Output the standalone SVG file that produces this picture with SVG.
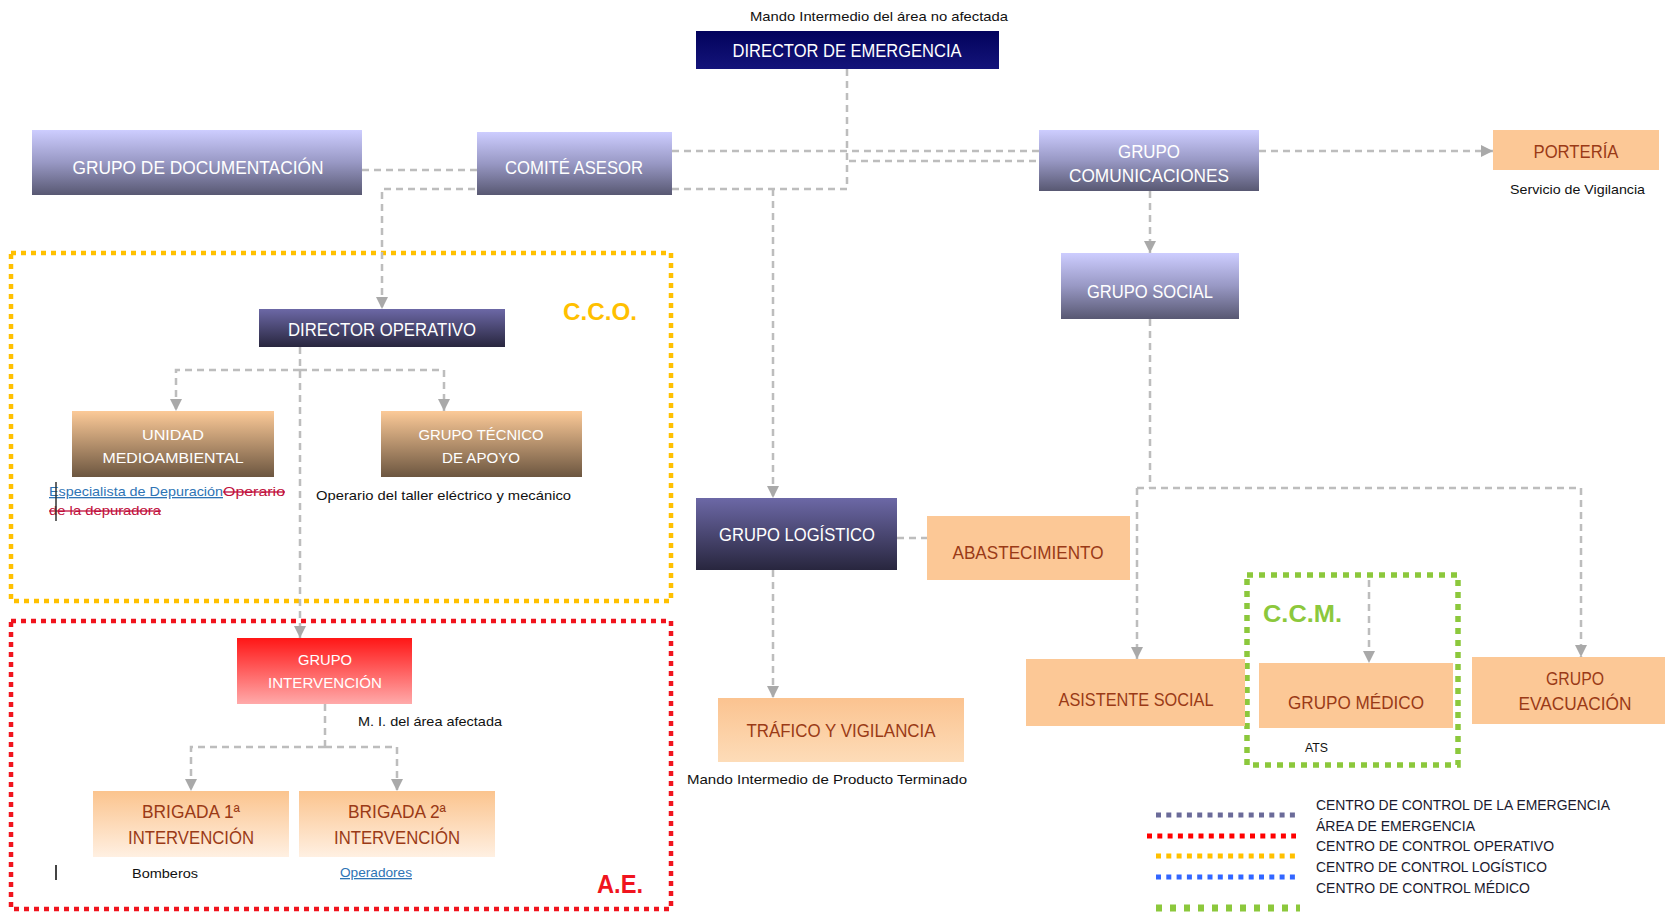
<svg xmlns="http://www.w3.org/2000/svg" width="1665" height="912" viewBox="0 0 1665 912">
<defs>
<linearGradient id="gLav" x1="0" y1="0" x2="0" y2="1"><stop offset="0" stop-color="#cdcdff"/><stop offset="0.5" stop-color="#9898c4"/><stop offset="1" stop-color="#585872"/></linearGradient>
<linearGradient id="gDark" x1="0" y1="0" x2="0" y2="1"><stop offset="0" stop-color="#6c68a6"/><stop offset="1" stop-color="#28263e"/></linearGradient>
<linearGradient id="gNavy" x1="0" y1="0" x2="0" y2="1"><stop offset="0" stop-color="#02025c"/><stop offset="1" stop-color="#14147a"/></linearGradient>
<linearGradient id="gBrown" x1="0" y1="0" x2="0" y2="1"><stop offset="0" stop-color="#fcca98"/><stop offset="1" stop-color="#6c5640"/></linearGradient>
<linearGradient id="gLight" x1="0" y1="0" x2="0" y2="1"><stop offset="0" stop-color="#fbc48e"/><stop offset="1" stop-color="#fff0e2"/></linearGradient>
<linearGradient id="gTraf" x1="0" y1="0" x2="0" y2="1"><stop offset="0" stop-color="#fbc390"/><stop offset="1" stop-color="#fddcb8"/></linearGradient>
<linearGradient id="gRed" x1="0" y1="0" x2="0" y2="1"><stop offset="0" stop-color="#ff1616"/><stop offset="1" stop-color="#ffaaaa"/></linearGradient>
<marker id="arr" markerUnits="userSpaceOnUse" markerWidth="14" markerHeight="14" refX="12" refY="6" orient="auto"><path d="M0,0 L12,6 L0,12 z" fill="#a9a9a9"/></marker>
<style>
.con{fill:none;stroke:#bdbdbd;stroke-width:2.5;stroke-dasharray:7 5}
.ar{marker-end:url(#arr)}
.bl{font-family:"Liberation Sans",Arial,sans-serif;font-size:18px;fill:#ffffff;text-anchor:middle}
.bp{font-family:"Liberation Sans",Arial,sans-serif;font-size:18px;fill:#9a3a16;text-anchor:middle}
.sm{font-family:"Liberation Sans",Arial,sans-serif;font-size:13px;fill:#111111}
.lg{font-family:"Liberation Sans",Arial,sans-serif;font-size:14px;fill:#1a1a2e}
.zl{font-family:"Liberation Sans",Arial,sans-serif;font-weight:bold}
.peach{fill:#fcc896}
.zone{fill:none;stroke-width:4.5;stroke-dasharray:5 5}
</style>
</defs>
<rect width="1665" height="912" fill="#ffffff"/>

<g id="zones">
<rect class="zone" x="11" y="253" width="660" height="348" stroke="#ffc000"/>
<rect class="zone" x="11" y="621" width="660" height="288" stroke="#f0141e"/>
<rect x="1247" y="575" width="211" height="190" fill="none" stroke="#8cc83c" stroke-width="5.5" stroke-dasharray="6 6"/>
<text class="zl" x="563" y="320" textLength="74" lengthAdjust="spacingAndGlyphs" style="font-size:24px;fill:#ffc000">C.C.O.</text>
<text class="zl" x="1263" y="622" textLength="79" lengthAdjust="spacingAndGlyphs" style="font-size:24px;fill:#8cc83c">C.C.M.</text>
<text class="zl" x="597" y="893" textLength="46" lengthAdjust="spacingAndGlyphs" style="font-size:26px;fill:#f0141e">A.E.</text>
</g>

<g id="connectors">
<path class="con ar" d="M847,69 V189 H382 V309"/>
<path class="con" d="M672,151 H1039"/>
<path class="con" d="M849,161 H1039"/>
<path class="con" d="M362,170 H477"/>
<path class="con ar" d="M1259,151 H1493"/>
<path class="con ar" d="M1150,191 V253"/>
<path class="con" d="M1150,319 V488"/>
<path class="con ar" d="M1137,488 H1581 V657"/>
<path class="con ar" d="M1137,488 V659"/>
<path class="con ar" d="M773,189 V498"/>
<path class="con" d="M897,538 H927"/>
<path class="con ar" d="M773,570 V698"/>
<path class="con ar" d="M300,347 V638"/>
<path class="con ar" d="M300,370 H176 V411"/>
<path class="con ar" d="M300,370 H444 V411"/>
<path class="con ar" d="M1369,580 V663"/>
<path class="con" d="M325,704 V747"/>
<path class="con ar" d="M325,747 H191 V791"/>
<path class="con ar" d="M325,747 H397 V791"/>
</g>

<g id="director-emergencia">
<text class="sm" x="750" y="21" textLength="258" lengthAdjust="spacingAndGlyphs">Mando Intermedio del área no afectada</text>
<rect x="696" y="31" width="303" height="38" fill="url(#gNavy)"/>
<text class="bl" x="847" y="57" textLength="229" lengthAdjust="spacingAndGlyphs">DIRECTOR DE EMERGENCIA</text>
</g>

<g id="grupo-documentacion">
<rect x="32" y="130" width="330" height="65" fill="url(#gLav)"/>
<text class="bl" x="198" y="174" textLength="251" lengthAdjust="spacingAndGlyphs">GRUPO DE DOCUMENTACIÓN</text>
</g>

<g id="comite-asesor">
<rect x="477" y="132" width="195" height="63" fill="url(#gLav)"/>
<text class="bl" x="574" y="174" textLength="138" lengthAdjust="spacingAndGlyphs">COMITÉ ASESOR</text>
</g>

<g id="grupo-comunicaciones">
<rect x="1039" y="130" width="220" height="61" fill="url(#gLav)"/>
<text class="bl" x="1149" y="158" textLength="62" lengthAdjust="spacingAndGlyphs">GRUPO</text>
<text class="bl" x="1149" y="182" textLength="160" lengthAdjust="spacingAndGlyphs">COMUNICACIONES</text>
</g>

<g id="porteria">
<rect class="peach" x="1493" y="130" width="166" height="40"/>
<text class="bp" x="1576" y="158" textLength="85" lengthAdjust="spacingAndGlyphs">PORTERÍA</text>
<text class="sm" x="1510" y="194" textLength="135" lengthAdjust="spacingAndGlyphs">Servicio de Vigilancia</text>
</g>

<g id="grupo-social">
<rect x="1061" y="253" width="178" height="66" fill="url(#gLav)"/>
<text class="bl" x="1150" y="298" textLength="126" lengthAdjust="spacingAndGlyphs">GRUPO SOCIAL</text>
</g>

<g id="director-operativo">
<rect x="259" y="309" width="246" height="38" fill="url(#gDark)"/>
<text class="bl" x="382" y="336" textLength="188" lengthAdjust="spacingAndGlyphs">DIRECTOR OPERATIVO</text>
</g>

<g id="unidad-medioambiental">
<rect x="72" y="411" width="202" height="66" fill="url(#gBrown)"/>
<text class="bl" x="173" y="440" style="font-size:15px" textLength="62" lengthAdjust="spacingAndGlyphs">UNIDAD</text>
<text class="bl" x="173" y="463" style="font-size:15px" textLength="141" lengthAdjust="spacingAndGlyphs">MEDIOAMBIENTAL</text>
<text class="sm" x="49" y="496" textLength="174" lengthAdjust="spacingAndGlyphs" style="fill:#2e74b5;text-decoration:underline">Especialista de Depuración</text>
<text class="sm" x="223" y="496" textLength="62" lengthAdjust="spacingAndGlyphs" style="fill:#c0103c;text-decoration:line-through">Operario</text>
<text class="sm" x="49" y="515" textLength="112" lengthAdjust="spacingAndGlyphs" style="fill:#c0103c;text-decoration:line-through">de la depuradora</text>
<line x1="56" y1="482" x2="56" y2="521" stroke="#333333" stroke-width="1.5"/>
</g>

<g id="grupo-tecnico">
<rect x="381" y="411" width="201" height="66" fill="url(#gBrown)"/>
<text class="bl" x="481" y="440" style="font-size:15px" textLength="125" lengthAdjust="spacingAndGlyphs">GRUPO TÉCNICO</text>
<text class="bl" x="481" y="463" style="font-size:15px" textLength="78" lengthAdjust="spacingAndGlyphs">DE APOYO</text>
<text class="sm" x="316" y="500" textLength="255" lengthAdjust="spacingAndGlyphs">Operario del taller eléctrico y mecánico</text>
</g>

<g id="grupo-intervencion">
<rect x="237" y="638" width="175" height="66" fill="url(#gRed)"/>
<text class="bl" x="325" y="665" style="font-size:15px" textLength="54" lengthAdjust="spacingAndGlyphs">GRUPO</text>
<text class="bl" x="325" y="688" style="font-size:15px" textLength="114" lengthAdjust="spacingAndGlyphs">INTERVENCIÓN</text>
<text class="sm" x="358" y="726" textLength="144" lengthAdjust="spacingAndGlyphs">M. I. del área afectada</text>
</g>

<g id="brigada-1">
<rect x="93" y="791" width="196" height="66" fill="url(#gLight)"/>
<text class="bp" x="191" y="818" textLength="98" lengthAdjust="spacingAndGlyphs">BRIGADA 1ª</text>
<text class="bp" x="191" y="844" textLength="126" lengthAdjust="spacingAndGlyphs">INTERVENCIÓN</text>
<text class="sm" x="132" y="878" textLength="66" lengthAdjust="spacingAndGlyphs">Bomberos</text>
<line x1="56" y1="865" x2="56" y2="880" stroke="#444444" stroke-width="2"/>
</g>

<g id="brigada-2">
<rect x="299" y="791" width="196" height="66" fill="url(#gLight)"/>
<text class="bp" x="397" y="818" textLength="98" lengthAdjust="spacingAndGlyphs">BRIGADA 2ª</text>
<text class="bp" x="397" y="844" textLength="126" lengthAdjust="spacingAndGlyphs">INTERVENCIÓN</text>
<text class="sm" x="340" y="877" textLength="72" lengthAdjust="spacingAndGlyphs" style="fill:#2e74b5;text-decoration:underline">Operadores</text>
</g>

<g id="grupo-logistico">
<rect x="696" y="498" width="201" height="72" fill="url(#gDark)"/>
<text class="bl" x="797" y="541" textLength="156" lengthAdjust="spacingAndGlyphs">GRUPO LOGÍSTICO</text>
</g>

<g id="abastecimiento">
<rect class="peach" x="927" y="516" width="203" height="64"/>
<text class="bp" x="1028" y="559" textLength="151" lengthAdjust="spacingAndGlyphs">ABASTECIMIENTO</text>
</g>

<g id="trafico-vigilancia">
<rect x="718" y="698" width="246" height="64" fill="url(#gTraf)"/>
<text class="bp" x="841" y="737" textLength="189" lengthAdjust="spacingAndGlyphs">TRÁFICO Y VIGILANCIA</text>
<text class="sm" x="687" y="784" textLength="280" lengthAdjust="spacingAndGlyphs">Mando Intermedio de Producto Terminado</text>
</g>

<g id="asistente-social">
<rect class="peach" x="1026" y="659" width="219" height="67"/>
<text class="bp" x="1136" y="706" textLength="155" lengthAdjust="spacingAndGlyphs">ASISTENTE SOCIAL</text>
</g>

<g id="grupo-medico">
<rect class="peach" x="1259" y="663" width="194" height="65"/>
<text class="bp" x="1356" y="709" textLength="136" lengthAdjust="spacingAndGlyphs">GRUPO MÉDICO</text>
<text class="sm" x="1305" y="752" textLength="23" lengthAdjust="spacingAndGlyphs">ATS</text>
</g>

<g id="grupo-evacuacion">
<rect class="peach" x="1472" y="657" width="193" height="67"/>
<text class="bp" x="1575" y="685" textLength="58" lengthAdjust="spacingAndGlyphs">GRUPO</text>
<text class="bp" x="1575" y="710" textLength="113" lengthAdjust="spacingAndGlyphs">EVACUACIÓN</text>
</g>

<g id="legend">
<line x1="1156" y1="815" x2="1296" y2="815" stroke="#6b6b99" stroke-width="5" stroke-dasharray="5 5.3"/>
<line x1="1147" y1="836" x2="1296" y2="836" stroke="#ff0000" stroke-width="5" stroke-dasharray="5 5.3"/>
<line x1="1156" y1="856" x2="1296" y2="856" stroke="#ffc000" stroke-width="5" stroke-dasharray="5 5.3"/>
<line x1="1156" y1="877" x2="1296" y2="877" stroke="#3366ff" stroke-width="5" stroke-dasharray="5 5.3"/>
<line x1="1156" y1="908" x2="1300" y2="908" stroke="#8cc83c" stroke-width="7" stroke-dasharray="6 8"/>
<text class="lg" x="1316" y="810" textLength="294" lengthAdjust="spacingAndGlyphs">CENTRO DE CONTROL DE LA EMERGENCIA</text>
<text class="lg" x="1316" y="831" textLength="159" lengthAdjust="spacingAndGlyphs">ÁREA DE EMERGENCIA</text>
<text class="lg" x="1316" y="851" textLength="238" lengthAdjust="spacingAndGlyphs">CENTRO DE CONTROL OPERATIVO</text>
<text class="lg" x="1316" y="872" textLength="231" lengthAdjust="spacingAndGlyphs">CENTRO DE CONTROL LOGÍSTICO</text>
<text class="lg" x="1316" y="893" textLength="214" lengthAdjust="spacingAndGlyphs">CENTRO DE CONTROL MÉDICO</text>
</g>
</svg>
